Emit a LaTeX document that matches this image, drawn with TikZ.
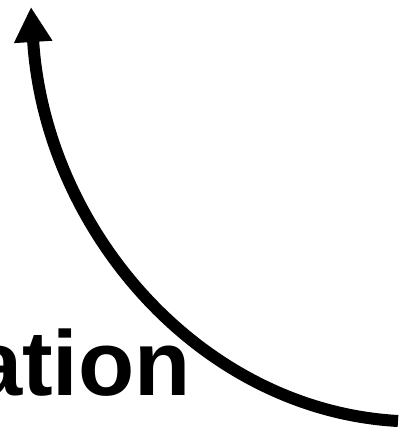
\documentclass[tikz,border=0pt]{standalone}
\usepackage{fontspec}
\setmainfont{Liberation Sans}
\usetikzlibrary{arrows.meta}

\begin{document}
\begin{tikzpicture}[
  x=1pt, y=-1pt,
  % one base style for the curved arrow, one for the cut-off word
  bigarr/.style={-{Triangle[length=35pt, width=36pt]}, line width=12pt, black},
  W/.style={font=\fontsize{92}{92}\selectfont\bfseries, inner sep=0pt, anchor=base east},
]
\useasboundingbox (0,0) rectangle (403,431);
\clip (0,0) rectangle (403,431);

%% ── Word ─────────────────────────────────────────────────────────
\node[W] (word) at (191,395) {ation};

%% ── Arrow ends ───────────────────────────────────────────────────
\coordinate (start) at (398,421);
\coordinate (tip)   at (31,7);

%% ── Curved arrow ─────────────────────────────────────────────────
\draw[bigarr] (start) .. controls (200,410) and (45,230) .. (tip);

\end{tikzpicture}
\end{document}
